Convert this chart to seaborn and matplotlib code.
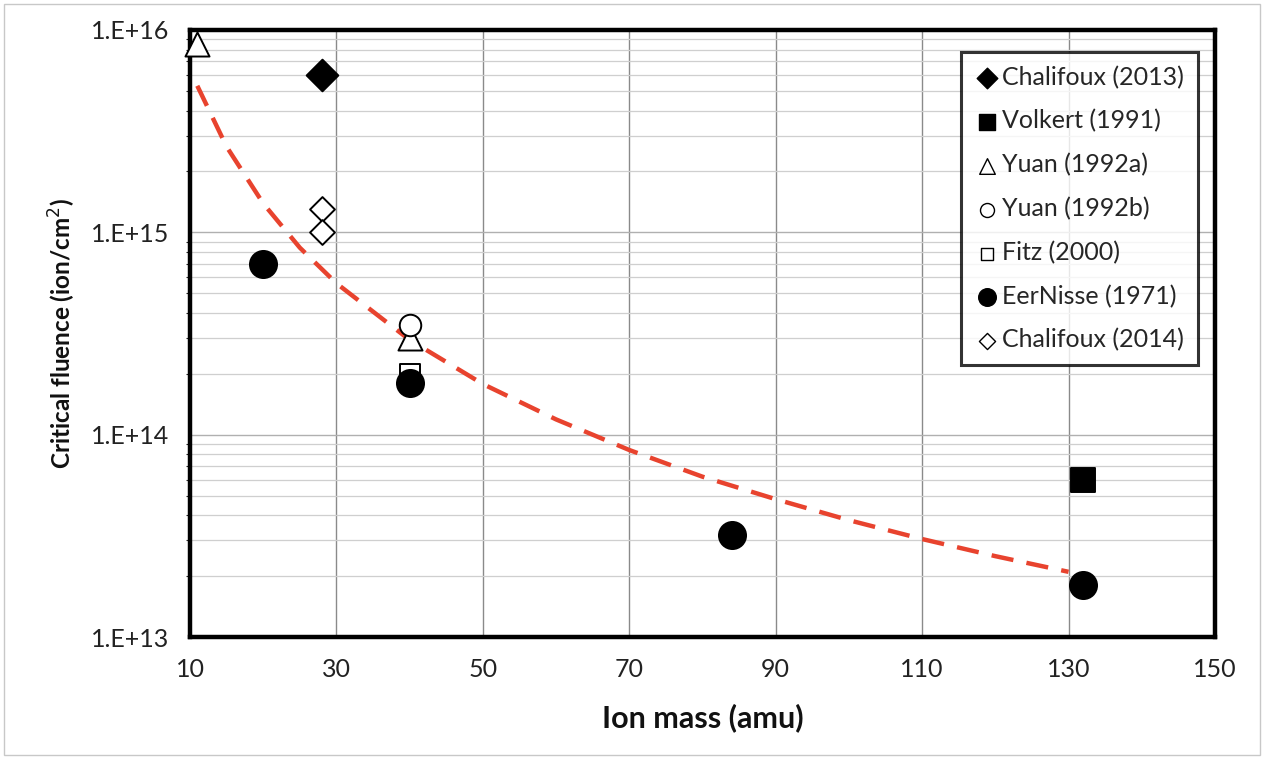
import matplotlib
matplotlib.use("Agg")
import matplotlib.pyplot as plt
import seaborn as sns
import pandas as pd
import numpy as np
from matplotlib.ticker import FixedLocator, LogLocator, NullFormatter

# ---- data ----
chal2013_x = [28]
chal2013_y = [6.0e15]
volkert_x = [132]
volkert_y = [6.0e13]
yuan_a_x = [11, 40]
yuan_a_y = [8.5e15, 3.0e14]
yuan_b_x = [40]
yuan_b_y = [3.5e14]
fitz_x = [40]
fitz_y = [2.0e14]
eernisse_x = [20, 40, 84, 132]
eernisse_y = [7.0e14, 1.8e14, 3.2e13, 1.8e13]
chal2014_x = [28, 28]
chal2014_y = [1.3e15, 1.0e15]

trend_x = [11, 15, 20, 25, 30, 40, 50, 60, 70, 80, 90, 100, 110, 120, 130]
trend_y = [5.3e15, 2.65e15, 1.39e15, 8.4e14, 5.6e14, 2.94e14, 1.78e14, 1.19e14,
           8.4e13, 6.2e13, 4.8e13, 3.78e13, 3.05e13, 2.51e13, 2.1e13]

x_ticks = [10, 30, 50, 70, 90, 110, 130, 150]
y_ticks = [1e13, 1e14, 1e15, 1e16]
y_tick_labels = ["1.E+13", "1.E+14", "1.E+15", "1.E+16"]

sns.set_theme(style="white")
plt.rcParams['font.family'] = ['Lato', 'DejaVu Sans']

fig = plt.figure(figsize=(12.64, 7.63), dpi=100)
ax = fig.add_axes([0.1503, 0.1651, 0.9612 - 0.1503, 0.9607 - 0.1651])

ax.set_yscale("log")
ax.set_xlim(10, 150)
ax.set_ylim(1e13, 1e16)

# grid
ax.yaxis.set_minor_locator(LogLocator(base=10, subs=np.arange(2, 10)))
ax.yaxis.set_minor_formatter(NullFormatter())
ax.grid(True, which="minor", axis="y", color="#cfcfcf", linewidth=0.9, zorder=0)
ax.grid(True, which="major", axis="y", color="#b0b0b0", linewidth=1.0, zorder=0)
ax.set_xticks(x_ticks)
ax.xaxis.set_minor_locator(FixedLocator([]))
for xv in x_ticks[1:-1]:
    ax.axvline(xv, color="#8a8a8a", linewidth=1.0, zorder=0.5)

# trend line
trend = pd.DataFrame({"x": trend_x, "y": trend_y})
sns.lineplot(data=trend, x="x", y="y", ax=ax, color="#e8432e", linewidth=3.2,
             linestyle=(0, (5, 3)), zorder=2, legend=False)

def plot_series(xs, ys, marker, face, size, label, lw=1.4):
    df = pd.DataFrame({"x": xs, "y": ys})
    sns.scatterplot(data=df, x="x", y="y", ax=ax, marker=marker, s=size,
                    facecolor=face, edgecolor="black", linewidth=lw,
                    label=label, zorder=3, clip_on=False)

plot_series(chal2013_x, chal2013_y, "D", "black", 260, "Chalifoux (2013)")
plot_series(volkert_x, volkert_y, "s", "black", 300, "Volkert (1991)")
plot_series(yuan_a_x, yuan_a_y, "^", "white", 300, "Yuan (1992a)")
plot_series(yuan_b_x, yuan_b_y, "o", "white", 240, "Yuan (1992b)")
plot_series(fitz_x, fitz_y, "s", "white", 200, "Fitz (2000)")
plot_series(eernisse_x, eernisse_y, "o", "black", 380, "EerNisse (1971)")
plot_series(chal2014_x, chal2014_y, "D", "white", 160, "Chalifoux (2014)")

# ticks & labels
ax.set_yticks(y_ticks)
ax.set_yticklabels(y_tick_labels)
ax.set_xticklabels([str(v) for v in x_ticks])
ax.tick_params(axis="both", which="major", labelsize=18, colors="#222222",
               length=5, width=1, direction="out")
ax.tick_params(axis="x", which="major", length=0, pad=15)
ax.tick_params(axis="y", which="major", pad=10)
ax.tick_params(axis="y", which="minor", length=3, width=0.8, left=True)
ax.set_xlabel("Ion mass (amu)", fontsize=22, fontweight="bold", labelpad=16, color="#111111")
ax.set_ylabel("Critical fluence (ion/cm$^2$)", fontsize=17.5, fontweight="bold",
              color="#111111")
ax.yaxis.set_label_coords(-0.109, 0.5)

for sp in ax.spines.values():
    sp.set_visible(True)
    sp.set_color("black")
    sp.set_linewidth(3.2)

leg = ax.legend(loc="upper right", bbox_to_anchor=(0.983, 0.964), fontsize=18,
                frameon=True, fancybox=False, edgecolor="black", borderaxespad=0.0,
                handletextpad=0.1, labelspacing=0.82, borderpad=0.55,
                handlelength=1.0, markerscale=0.65)
leg.get_frame().set_linewidth(2.2)
for h in leg.legend_handles:
    h.set_linewidth(1.0)

# faint page border
fig.patches.append(plt.Rectangle((0.003, 0.01), 0.994, 0.985, transform=fig.transFigure,
                                 fill=False, edgecolor="#c8c8c8", linewidth=1.0))

fig.savefig("out.png", dpi=100)
